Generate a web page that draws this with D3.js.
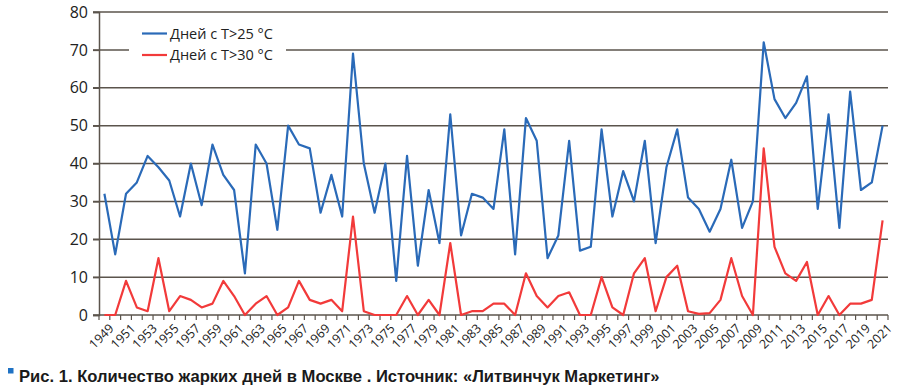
<!DOCTYPE html>
<html>
<head>
<meta charset="utf-8">
<script src="https://cdn.jsdelivr.net/npm/d3@7"></script>
<style>
  body { margin: 0; background: #fff; }
  svg { display: block; }
</style>
</head>
<body>
<div id="chart"></div>
<script>
const width = 900;
const height = 392;

// years 1949..2021
const years = d3.range(1949, 2022);

// days with T > 25 °C
const hot25 = [32, 16, 32, 35, 42, 39, 35.5, 26, 40, 29, 45, 37, 33, 11, 45, 40, 22.5, 50, 45, 44,
  27, 37, 26, 69, 40, 27, 40, 9, 42, 13, 33, 19, 53, 21, 32, 31, 28, 49, 16, 52,
  46, 15, 21, 46, 17, 18, 49, 26, 38, 30, 46, 19, 39, 49, 31, 28, 22, 28, 41, 23,
  30, 72, 57, 52, 56, 63, 28, 53, 23, 59, 33, 35, 50];

// days with T > 30 °C
const hot30 = [0, 0, 9, 2, 1, 15, 1, 5, 4, 2, 3, 9, 5, 0, 3, 5, 0, 2, 9, 4,
  3, 4, 1, 26, 1, 0, 0, 0, 5, 0, 4, 0, 19, 0, 1, 1, 3, 3, 0, 11,
  5, 2, 5, 6, 0, 0, 10, 2, 0, 11, 15, 1, 10, 13, 1, 0.3, 0.5, 4, 15, 5,
  0, 44, 18, 11, 9, 14, 0, 5, 0, 3, 3, 4, 25];

const yTicks = [0, 10, 20, 30, 40, 50, 60, 70, 80];
const seriesNames = ["Дней с T>25 °C", "Дней с T>30 °C"];
const seriesColors = ["#2a6ab8", "#f23a3a"];
const caption = "Рис. 1. Количество жарких дней в Москве . Источник: «Литвинчук Маркетинг»";

const margin = {top: 12, left: 99, right: 12, bottom: 77};

let svg = d3.select("#chart")
  .append("svg")
  .attr("width", width)
  .attr("height", height);

let x = d3.scalePoint()
  .domain(years)
  .range([margin.left, width - margin.right])
  .padding(0.5);

let y = d3.scaleLinear()
  .domain([0, 80])
  .range([height - margin.bottom, margin.top]);

const step = x.step();

// grid lines
svg.append("g")
  .selectAll("line")
  .data(yTicks.slice(1))
  .enter()
  .append("line")
  .attr("x1", margin.left - 6)
  .attr("x2", width - margin.right)
  .attr("y1", d => y(d))
  .attr("y2", d => y(d))
  .attr("stroke", "#5b544c")
  .attr("stroke-width", 1.5);

// y axis
let yAxis = svg.append("g")
  .attr("transform", "translate(" + margin.left + ",0)")
  .call(d3.axisLeft(y).tickValues(yTicks).tickSize(6).tickPadding(5));
yAxis.select(".domain").attr("stroke", "#5b544c").attr("stroke-width", 1.5);
yAxis.selectAll(".tick line").attr("stroke", "#5b544c").attr("stroke-width", 1.5);
yAxis.selectAll("text")
  .attr("font-family", "'Open Sans', sans-serif")
  .attr("font-size", 16)
  .attr("fill", "#222");

// x axis
let xAxisG = svg.append("g")
  .attr("transform", "translate(0," + y(0) + ")");
xAxisG.append("line")
  .attr("x1", margin.left - 6)
  .attr("x2", width - margin.right)
  .attr("stroke", "#5b544c")
  .attr("stroke-width", 1.5);
xAxisG.selectAll("line.tk")
  .data(years.concat([2022]))
  .enter()
  .append("line")
  .attr("class", "tk")
  .attr("x1", d => x(1949) + (d - 1949) * step - step / 2)
  .attr("x2", d => x(1949) + (d - 1949) * step - step / 2)
  .attr("y1", 0)
  .attr("y2", 5)
  .attr("stroke", "#5b544c")
  .attr("stroke-width", 1.2);
xAxisG.selectAll("text")
  .data(years.filter(d => (d - 1949) % 2 === 0))
  .enter()
  .append("text")
  .attr("transform", d => "translate(" + (x(d) + 4) + ",8) rotate(-45)")
  .attr("text-anchor", "end")
  .attr("dy", "0.7em")
  .attr("font-family", "'Open Sans', sans-serif")
  .attr("font-size", 12.5)
  .attr("fill", "#222")
  .text(d => d);

// lines
let lineGenerator = d3.line()
  .x(d => x(d[0]))
  .y(d => y(d[1]));

[hot25, hot30].forEach((vals, i) => {
  svg.append("path")
    .attr("d", lineGenerator(years.map((yr, j) => [yr, vals[j]])))
    .attr("fill", "none")
    .attr("stroke", seriesColors[i])
    .attr("stroke-width", 2.2)
    .attr("stroke-linejoin", "round");
});

// legend
let legend = svg.append("g");
legend.append("rect")
  .attr("x", 129)
  .attr("y", 20)
  .attr("width", 157)
  .attr("height", 46)
  .attr("fill", "#fff");
seriesNames.forEach((name, i) => {
  let ly = 33.5 + i * 21.5;
  legend.append("line")
    .attr("x1", 142).attr("x2", 167)
    .attr("y1", ly).attr("y2", ly)
    .attr("stroke", seriesColors[i])
    .attr("stroke-width", 2.2);
  legend.append("text")
    .attr("x", 170)
    .attr("y", ly)
    .attr("dy", "0.35em")
    .attr("font-family", "'Open Sans', sans-serif")
    .attr("font-size", 14.5)
    .attr("fill", "#222")
    .text(name);
});

// caption
svg.append("rect")
  .attr("x", 8).attr("y", 368)
  .attr("width", 5.5).attr("height", 5.5)
  .attr("fill", "#1f72c4");
svg.append("text")
  .attr("x", 19)
  .attr("y", 382)
  .attr("font-family", "'Liberation Sans', Arial, sans-serif")
  .attr("font-weight", "bold")
  .attr("font-size", 16.6)
  .attr("fill", "#1a1a1a")
  .text(caption);
</script>
</body>
</html>
